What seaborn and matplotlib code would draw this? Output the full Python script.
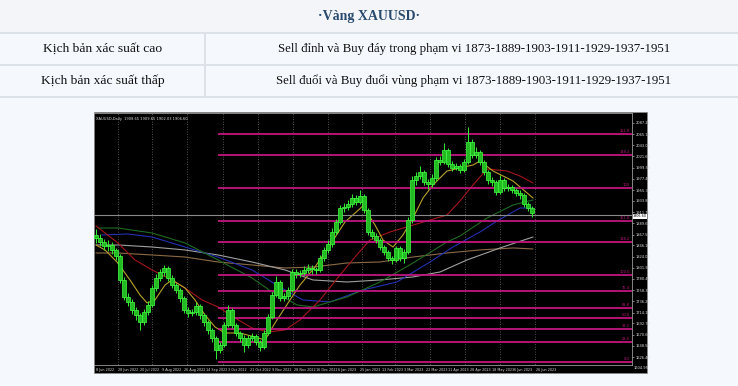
import matplotlib
matplotlib.use("Agg")
import matplotlib.pyplot as plt
import seaborn as sns
import pandas as pd
from matplotlib.patches import Rectangle
from matplotlib.lines import Line2D

# ---------------- data ----------------
title = "·Vàng XAUUSD·"
row_labels = ["Kịch bản xác suất cao", "Kịch bản xác suất thấp"]
row_texts = ["Sell đỉnh và Buy đáy trong phạm vi 1873-1889-1903-1911-1929-1937-1951",
             "Sell đuổi và Buy đuổi vùng phạm vi 1873-1889-1903-1911-1929-1937-1951"]

first_open = 1866.0
closes = [1860.9, 1853.0, 1845.1, 1847.1, 1837.3, 1825.4, 1778.2, 1744.7, 1734.9, 1719.1,
          1709.3, 1695.5, 1715.2, 1729.0, 1762.4, 1782.1, 1793.9, 1801.8, 1782.1, 1768.3,
          1758.5, 1742.7, 1719.1, 1713.2, 1715.2, 1727.0, 1709.3, 1695.5, 1679.8, 1664.0,
          1640.4, 1650.2, 1689.6, 1719.1, 1689.6, 1673.8, 1664.0, 1650.2, 1664.0, 1667.9,
          1656.1, 1646.3, 1673.8, 1705.4, 1748.7, 1774.2, 1742.7, 1746.7, 1758.5, 1793.9,
          1790.5, 1792.0, 1797.9, 1801.8, 1799.6, 1797.9, 1821.5, 1837.3, 1849.1, 1872.7,
          1892.4, 1920.0, 1921.9, 1927.8, 1939.6, 1931.8, 1943.6, 1916.0, 1872.7, 1864.8,
          1856.9, 1843.1, 1833.3, 1821.5, 1817.6, 1841.2, 1821.5, 1833.3, 1896.3, 1975.0,
          1982.9, 1990.8, 1971.1, 1967.2, 1979.0, 2014.4, 2011.2, 2034.1, 2006.5, 1998.7,
          2002.6, 1994.7, 2010.5, 2049.8, 2024.3, 2030.2, 2010.5, 1990.8, 1975.0, 1971.1,
          1951.4, 1975.0, 1959.3, 1962.0, 1955.4, 1950.2, 1945.5, 1927.8, 1919.9, 1910.1]
highs = [1879, 1868, 1858, 1856, 1852, 1842, 1830, 1784, 1752, 1741,
         1725, 1714, 1722, 1736, 1768, 1790, 1800, 1808, 1806, 1787,
         1773, 1763, 1747, 1725, 1722, 1734, 1731, 1713, 1700, 1684,
         1668, 1657, 1695, 1729, 1723, 1694, 1678, 1669, 1670, 1674,
         1672, 1660, 1679, 1711, 1755, 1786, 1779, 1753, 1764, 1799,
         1799, 1798, 1805, 1810, 1807, 1804, 1827, 1843, 1856, 1880,
         1898, 1926, 1930, 1935, 1947, 1945, 1956, 1948, 1920, 1878,
         1870, 1861, 1848, 1838, 1826, 1846, 1845, 1840, 1902, 1982,
         1991, 2003, 1995, 1977, 1986, 2020, 2022, 2048, 2038, 2012,
         2009, 2007, 2017, 2079, 2056, 2040, 2035, 2015, 1995, 1981,
         1975, 1984, 1979, 1968, 1966, 1960, 1955, 1950, 1932, 1924]
lows = [1850, 1846, 1838, 1836, 1830, 1818, 1772, 1738, 1726, 1711,
        1700, 1680, 1690, 1709, 1724, 1756, 1776, 1786, 1776, 1762,
        1752, 1735, 1713, 1706, 1707, 1710, 1702, 1688, 1672, 1657,
        1622, 1634, 1646, 1685, 1684, 1667, 1657, 1636, 1645, 1658,
        1650, 1638, 1642, 1669, 1701, 1744, 1737, 1736, 1741, 1754,
        1783, 1784, 1787, 1792, 1790, 1789, 1793, 1816, 1831, 1844,
        1866, 1888, 1912, 1916, 1921, 1925, 1927, 1910, 1867, 1858,
        1850, 1837, 1827, 1815, 1810, 1813, 1815, 1812, 1829, 1891,
        1966, 1976, 1965, 1958, 1961, 1974, 2004, 2006, 2000, 1992,
        1994, 1988, 1990, 2006, 2018, 2019, 2004, 1985, 1968, 1964,
        1945, 1947, 1953, 1953, 1949, 1944, 1938, 1921, 1913, 1903]

# moving averages (bar index, price)
ma_fast_x = [0, 2.25, 5.25, 8.5, 11, 12.75, 14.75, 17.25, 19, 22.25, 24.75, 27.25, 29.75, 32.25,
             36, 39.75, 42.25, 44.75, 48.5, 51, 54.75, 58.5, 62.25, 66.75, 69.75, 71.75, 74.25,
             76.75, 79.25, 81.75, 84.25, 87.75, 91, 94.25, 96, 99.25, 104.25, 109.25]
ma_fast_y = [1847.1, 1837.3, 1813.6, 1778.2, 1748.7, 1733.0, 1738.8, 1768.3, 1778.2, 1762.4,
             1738.8, 1709.3, 1685.6, 1673.8, 1673.8, 1665.9, 1660.0, 1693.5, 1738.8, 1768.3,
             1803.7, 1847.1, 1892.4, 1923.9, 1886.5, 1856.9, 1843.1, 1866.8, 1900.2, 1939.6,
             1965.2, 1992.7, 1998.7, 2004.6, 2012.4, 1992.7, 1973.1, 1939.6]
ma_red_x = [0, 5.5, 9.75, 14, 18, 22.25, 26.5, 30.5, 34.75, 39, 43, 47.25, 51, 56, 61, 64.75,
            68.5, 73.5, 78.5, 87.75, 91, 94.25, 97.75, 102.75, 106, 109.25]
ma_red_y = [1884.5, 1851.0, 1817.6, 1797.9, 1782.1, 1762.4, 1738.8, 1725.0, 1703.4, 1683.7,
            1675.8, 1679.8, 1699.4, 1738.8, 1788.0, 1823.4, 1856.9, 1872.7, 1884.5, 1906.1,
            1933.7, 1965.2, 1996.7, 1992.7, 1982.9, 1969.1]
ma_green_x = [0.5, 5.5, 14, 22.25, 30.5, 39, 44, 47.25, 50.25, 54.25, 62.75, 71, 79.25, 87.75,
              91, 97.75, 104.25, 109.25]
ma_green_y = [1880.5, 1880.5, 1870.7, 1851.0, 1817.6, 1782.1, 1754.6, 1742.8, 1729.0, 1725.0,
              1744.7, 1774.2, 1811.6, 1853.0, 1864.8, 1900.2, 1925.8, 1935.7]
ma_blue_x = [1.5, 8, 14, 22.25, 30.5, 39, 47.25, 51.75, 58.5, 66.75, 75.25, 83.5, 89.25, 96,
             100.25, 106, 109.25]
ma_blue_y = [1866.8, 1868.7, 1862.8, 1843.1, 1823.4, 1797.9, 1758.5, 1738.8, 1734.9, 1758.5,
             1774.2, 1813.6, 1843.1, 1872.7, 1894.3, 1919.9, 1919.9]
ma_gray_x = [0, 5.5, 14, 22.25, 30.5, 39, 47.25, 54.25, 62.75, 71, 79.25, 86, 92.75, 101, 109.25]
ma_gray_y = [1847.1, 1847.1, 1843.1, 1837.3, 1827.4, 1813.6, 1797.9, 1778.2, 1774.2, 1778.2,
             1784.1, 1793.9, 1817.6, 1841.2, 1862.8]
ma_brown_x = [0, 5.5, 14, 22.25, 30.5, 39, 47.25, 54.25, 62.75, 71, 79.25, 87.75, 96, 104.25, 109.25]
ma_brown_y = [1831.3, 1831.3, 1827.4, 1823.4, 1813.6, 1807.7, 1801.8, 1803.7, 1811.6, 1813.6,
              1823.4, 1831.3, 1837.3, 1841.2, 1839.2]

fib_levels = [2065.6, 2024.2, 1959.3, 1894.3, 1853.0, 1788.0, 1756.5, 1723.1, 1703.4, 1681.7, 1656.1, 1616.6]
fib_labels = ["161.8", "138.2", "100", "161.8", "138.2", "100.0", "76.4", "61.8", "50.0", "38.2", "23.6", "0.0"]

price_ticks = [2087.25, 2065.15, 2043.05, 2021.60, 1999.50, 1977.40, 1955.30, 1933.85, 1911.75,
               1889.65, 1867.55, 1846.10, 1824.00, 1801.90, 1780.45, 1758.35, 1736.25, 1714.15,
               1692.70, 1670.60, 1648.50, 1626.40, 1604.95]
date_labels = ["8 Jun 2022", "28 Jun 2022", "20 Jul 2022", "9 Aug 2022", "26 Aug 2022", "14 Sep 2022",
               "3 Oct 2022", "21 Oct 2022", "9 Nov 2022", "28 Nov 2022", "16 Dec 2022", "6 Jan 2023",
               "25 Jan 2023", "13 Feb 2023", "3 Mar 2023", "22 Mar 2023", "11 Apr 2023", "28 Apr 2023",
               "18 May 2023", "6 Jun 2023", "26 Jun 2023"]
current_price = 1906.6
info_text = "XAUUSD,Daily  1908.65 1909.65 1902.03 1906.60"

# ---------------- figure ----------------
sns.set_theme(style="dark")
plt.rcParams['font.family'] = ['Liberation Serif', 'DejaVu Serif']

W, H = 738, 386
fig = plt.figure(figsize=(W / 100, H / 100), dpi=100)
fig.patch.set_facecolor('#f5f8fc')

def fy(y):
    return 1 - y / H

# table
fig.add_artist(Rectangle((0, fy(33)), 1, 33 / H, transform=fig.transFigure,
                         facecolor='#f3f5f8', edgecolor='none', zorder=-2))
for yy in [33, 65, 97]:
    fig.add_artist(Line2D([0, 1], [fy(yy), fy(yy)], transform=fig.transFigure,
                          color='#dde2e8', lw=1.4, zorder=-1))
fig.add_artist(Line2D([205 / W, 205 / W], [fy(33), fy(97)], transform=fig.transFigure,
                      color='#dde2e8', lw=1.4, zorder=-1))
fig.text(0.5, fy(16.5), title, ha='center', va='center', fontsize=10, fontweight='bold',
         color='#2a4b6e')
for k, (lab, txt) in enumerate(zip(row_labels, row_texts)):
    yc = fy(49 + 32 * k)
    fig.text(103 / W, yc, lab, ha='center', va='center', fontsize=9.7, color='#111111')
    fig.text(474 / W, yc, txt, ha='center', va='center', fontsize=9.3, color='#111111')

# chart black panel
fig.add_artist(Rectangle((94 / W, fy(373)), (647 - 94) / W, (373 - 112) / H,
                         transform=fig.transFigure, facecolor='black', edgecolor='#8a8a8a',
                         lw=0.5, zorder=-1))

ax = fig.add_axes([94 / W, fy(365), (632 - 94) / W, (365 - 113) / H])
ax.set_zorder(2)
ax.set_facecolor('black')
ax.grid(False)

n = len(closes)
opens = [first_open] + closes[:-1]
df = pd.DataFrame({"i": range(n), "open": opens, "close": closes, "high": highs, "low": lows})
df["bottom"] = df[["open", "close"]].min(axis=1)
df["body"] = (df["close"] - df["open"]).abs().clip(lower=1.0)

# gridlines
grid_x = [5.5, 14, 22.8, 31.75, 40.5, 49.25, 58, 66.5, 74.75, 83.5, 92.25, 101, 109.75]
ax.vlines(grid_x, 1500, 2200, colors='#6a6a6a', linestyles=(0, (1, 2)), lw=0.6, zorder=1)

# moving averages
ma_sets = [(ma_brown_x, ma_brown_y, '#8c6a48'), (ma_gray_x, ma_gray_y, '#a0a0a0'),
           (ma_blue_x, ma_blue_y, '#2330b0'), (ma_green_x, ma_green_y, '#1f6a22'),
           (ma_red_x, ma_red_y, '#a3161a'), (ma_fast_x, ma_fast_y, '#b8a12a')]
for mx, my, col in ma_sets:
    sns.lineplot(x=mx, y=my, ax=ax, color=col, lw=0.8, zorder=2)

# fib lines
ax.hlines(fib_levels, 30.5, 134, colors='#c0177e', lw=1.3, zorder=3)
for lv, lb in zip(fib_levels, fib_labels):
    ax.text(133.5, lv + 1.5, lb, ha='right', va='bottom', fontsize=2.6, color='#c0177e',
            family='DejaVu Sans', zorder=3)

# current price line
ax.axhline(current_price, color='#8a8a8a', lw=0.8, zorder=2.5)

# candles
ax.vlines(df["i"], df["low"], df["high"], colors='#33ee33', lw=0.7, zorder=4)
ax.bar(df["i"], df["body"], bottom=df["bottom"], width=0.8, color='#22bb22',
       edgecolor='#44ff44', lw=0.5, zorder=5)

ax.set_xlim(-0.5, 134)
ax.set_ylim(1610.8, 2106.9)

# axes styling
for sp in ax.spines.values():
    sp.set_color('#9a9a9a')
    sp.set_linewidth(0.6)
ax.yaxis.tick_right()
ax.set_yticks(price_ticks[:-1])
ax.set_yticklabels([f"{v:.2f}" for v in price_ticks[:-1]])
ax.tick_params(axis='y', colors='#dddddd', labelsize=2.6, length=1.5, width=0.4, pad=1,
               labelfontfamily='DejaVu Sans')
ax.text(1.003, -0.012, f"{price_ticks[-1]:.2f}", transform=ax.transAxes, fontsize=2.6,
        color='#dddddd', va='center', ha='left', family='DejaVu Sans')
ax.text(1.002, (current_price - 1610.8) / (2106.9 - 1610.8) - 0.006, f"{current_price:.2f}",
        transform=ax.transAxes, fontsize=2.4, color='black', va='center', ha='left',
        family='DejaVu Sans', bbox=dict(boxstyle='square,pad=0.1', fc='white', ec='none'),
        zorder=6)
xt = [5.5 * k for k in range(len(date_labels))]
ax.set_xticks(xt)
ax.set_xticklabels(date_labels, ha='left')
ax.tick_params(axis='x', colors='#dddddd', labelsize=2.4, length=1.5, width=0.4, pad=1,
               labelfontfamily='DejaVu Sans')
ax.set_xlabel("")
ax.set_ylabel("")
ax.text(0.004, 0.985, info_text, transform=ax.transAxes, fontsize=2.6, color='#dddddd',
        va='top', ha='left', family='DejaVu Sans')

fig.savefig("out.png", dpi=100, facecolor=fig.get_facecolor())
